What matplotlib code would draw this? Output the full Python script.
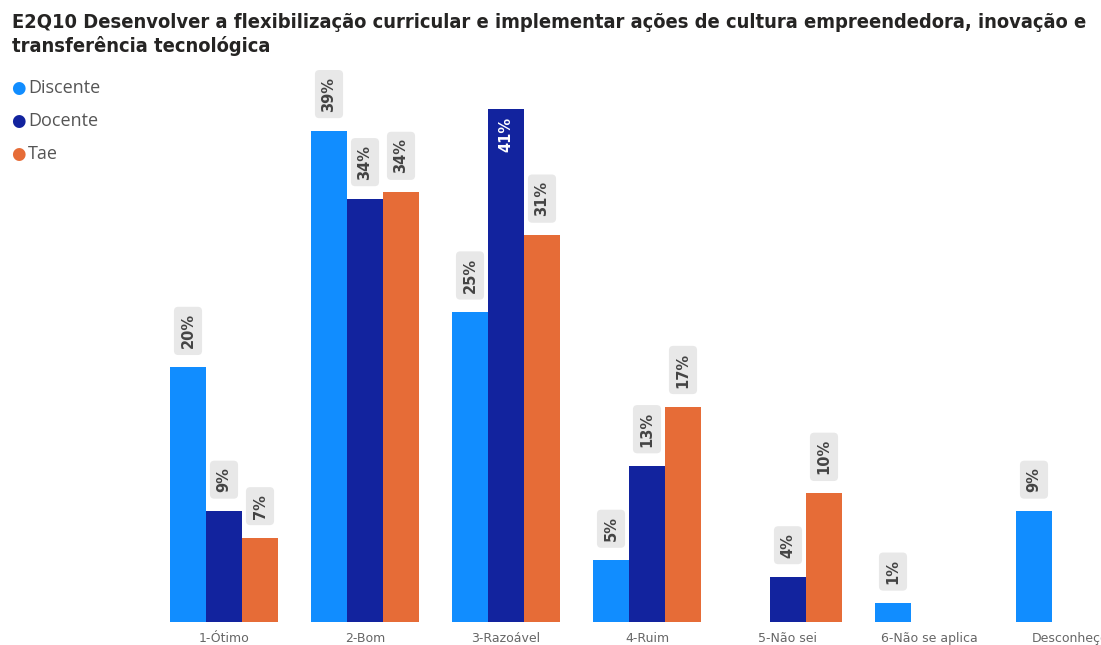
import numpy as np
import matplotlib
matplotlib.use("Agg")
import matplotlib.pyplot as plt

categories = ["1-Ótimo", "2-Bom", "3-Razoável", "4-Ruim", "5-Não sei", "6-Não se aplica", "Desconheço"]
series = ["Discente", "Docente", "Tae"]
discente = [20.2, 39.0, 24.6, 4.9, None, 1.5, 8.8]
docente = [8.8, 33.6, 40.7, 12.4, 3.6, None, None]
tae = [6.7, 34.1, 30.7, 17.1, 10.2, None, None]
labels_discente = ["20%", "39%", "25%", "5%", "", "1%", "9%"]
labels_docente = ["9%", "34%", "41%", "13%", "4%", "", ""]
labels_tae = ["7%", "34%", "31%", "17%", "10%", "", ""]
colors = ["#118DFF", "#12239E", "#E66C37"]

fig = plt.figure(figsize=(11.01, 6.45), dpi=100)
W, H = 1101, 645
base = 622
px_per = 12.6
ymax = 45
left = 153.5
ax = fig.add_axes([left / W, (H - base) / H, 1 - left / W, ymax * px_per / H])
ax.set_xlim(-0.5, (W - left) / 141 - 0.5)
ax.set_ylim(0, ymax)

bw = 36 / 141
x = np.arange(len(categories))
data = [discente, docente, tae]
labs = [labels_discente, labels_docente, labels_tae]
for k in range(3):
    for i in range(len(categories)):
        v = data[k][i]
        if v is None:
            continue
        xi = x[i] + (k - 1) * bw
        ax.bar(xi, v, width=bw, color=colors[k], edgecolor="none")
        txt = labs[k][i]
        if txt == "41%":
            ax.annotate(txt, (xi, v), xytext=(0, -8), textcoords="offset pixels",
                        rotation=90, ha="center", va="top", fontsize=10.5,
                        fontweight="bold", color="white")
        else:
            ax.annotate(txt, (xi, v), xytext=(0, 19), textcoords="offset pixels",
                        rotation=90, ha="center", va="bottom", fontsize=10.5,
                        fontweight="bold", color="#444444",
                        bbox=dict(boxstyle="round,pad=0.45,rounding_size=0.3",
                                  fc="#E8E8E8", ec="none"))

ax.set_xticks(x)
ax.set_xticklabels(categories, fontsize=9, color="#666666")
ax.tick_params(axis="x", length=0, pad=7)
ax.set_yticks([])
for s in ax.spines.values():
    s.set_visible(False)

fig.text(12 / W, 1 - 35 / H, "E2Q10 Desenvolver a flexibilização curricular e implementar ações de cultura empreendedora, inovação e\ntransferência tecnológica",
         fontsize=14.4, fontweight="bold", color="#252423", va="center", linespacing=1.25,
         family="DejaVu Sans", fontstretch="condensed")

for j, name in enumerate(series):
    yy = 1 - (88 + 33 * j) / H
    fig.text(18 / W, yy, "●", color=colors[j], fontsize=12, va="center", ha="center")
    fig.text(28 / W, yy, name, color="#555555", fontsize=13, va="center",
             family=["Open Sans", "DejaVu Sans"])

fig.savefig("out.png", dpi=100)
